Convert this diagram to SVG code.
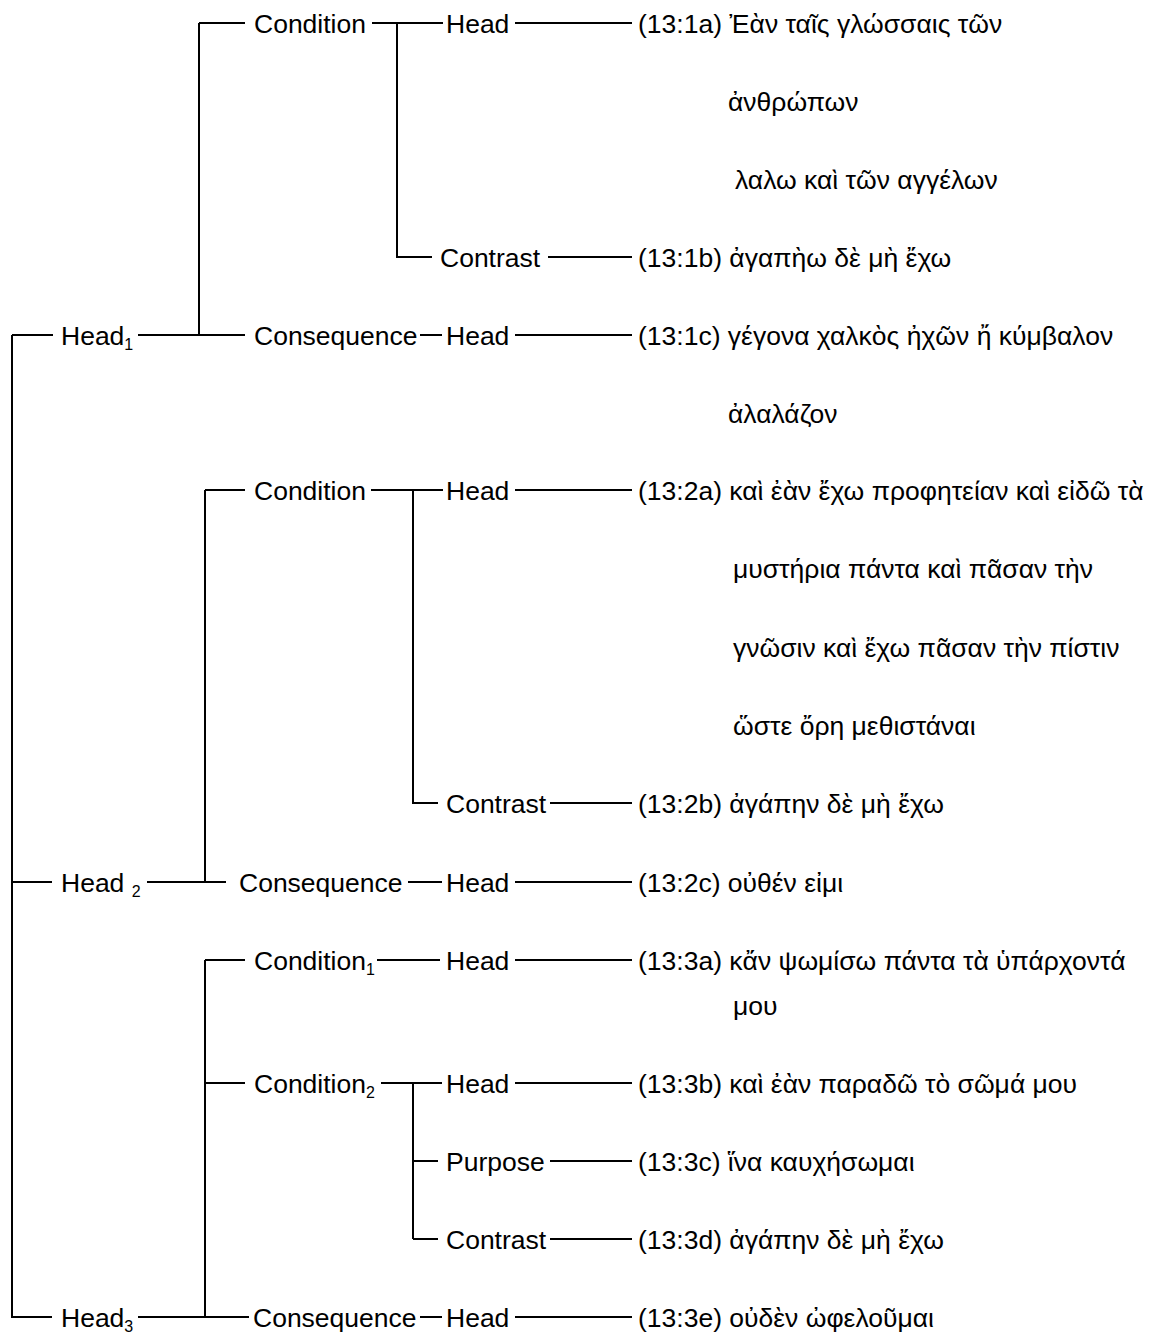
<svg xmlns="http://www.w3.org/2000/svg" width="1158" height="1333" viewBox="0 0 1158 1333">
<style>
text{font-family:"Liberation Sans",Arial,"DejaVu Sans",sans-serif;font-size:26.5px;fill:#000}
.sub{font-size:16px}
.c{fill:none;stroke:#000;stroke-width:2}
</style>
<rect width="1158" height="1333" fill="#fff"/>
<g id="connectors" class="c">
<path d="M12,335H53M12,335V1317H52M12,882H52"/>
<path d="M138,335H245M199,23V335M199,23H245"/>
<path d="M372,23H443M397,23V257H432M548,257H632"/>
<path d="M420,335H442M515,23H632M515,335H632"/>
<path d="M147,882H226M205,490V882M205,490H245"/>
<path d="M371,490H443M413,490V803H438M550,803H632M408,882H442M515,490H632M515,882H632"/>
<path d="M138,1317H249M205,960V1317M205,960H245M205,1083H245"/>
<path d="M377,960H440M381,1083H442M413,1083V1239M413,1161H438M413,1239H438M420,1317H442"/>
<path d="M515,960H632M515,1083H632M550,1161H632M550,1239H632M515,1317H632"/>
</g>
<g id="n-head1"><text x="61" y="344.5">Head<tspan class="sub" dy="5">1</tspan></text></g>
<g id="n-cond1"><text x="254" y="32.5">Condition</text></g>
<g id="n-cond1-head"><text x="446" y="32.5">Head</text></g>
<g id="n-1a"><text x="638" y="32.5">(13:1a) Ἐὰν ταῖς γλώσσαις τῶν</text><text x="728" y="110.5">ἀνθρώπων</text><text x="735" y="188.5">λαλω καὶ τῶν αγγέλων</text></g>
<g id="n-contrast1"><text x="440" y="266.5">Contrast</text></g>
<g id="n-1b"><text x="638" y="266.5">(13:1b) ἀγαπὴω δὲ μὴ ἔχω</text></g>
<g id="n-conseq1"><text x="254" y="344.5">Consequence</text></g>
<g id="n-conseq1-head"><text x="446" y="344.5">Head</text></g>
<g id="n-1c"><text x="638" y="344.5">(13:1c) γέγονα χαλκὸς ἠχῶν ἤ κύμβαλον</text><text x="728" y="422.5">ἀλαλάζον</text></g>

<g id="n-head2"><text x="61" y="891.5">Head <tspan class="sub" dy="5">2</tspan></text></g>
<g id="n-cond2"><text x="254" y="499.5">Condition</text></g>
<g id="n-cond2-head"><text x="446" y="499.5">Head</text></g>
<g id="n-2a"><text x="638" y="499.5">(13:2a) καὶ ἐὰν ἔχω προφητείαν καὶ εἰδῶ τὰ</text><text x="733" y="577.5">μυστήρια πάντα καὶ πᾶσαν τὴν</text><text x="733" y="656.5">γνῶσιν καὶ ἔχω πᾶσαν τὴν πίστιν</text><text x="733" y="734.5">ὥστε ὄρη μεθιστάναι</text></g>
<g id="n-contrast2"><text x="446" y="812.5">Contrast</text></g>
<g id="n-2b"><text x="638" y="812.5">(13:2b) ἀγάπην δὲ μὴ ἔχω</text></g>
<g id="n-conseq2"><text x="239" y="891.5">Consequence</text></g>
<g id="n-conseq2-head"><text x="446" y="891.5">Head</text></g>
<g id="n-2c"><text x="638" y="891.5">(13:2c) οὐθέν εἰμι</text></g>

<g id="n-head3"><text x="61" y="1326.5">Head<tspan class="sub" dy="5">3</tspan></text></g>
<g id="n-cond3a"><text x="254" y="969.5">Condition<tspan class="sub" dy="5">1</tspan></text></g>
<g id="n-cond3a-head"><text x="446" y="969.5">Head</text></g>
<g id="n-3a"><text x="638" y="969.5">(13:3a) κἄν ψωμίσω πάντα τὰ ὑπάρχοντά</text><text x="733" y="1014.5">μου</text></g>
<g id="n-cond3b"><text x="254" y="1092.5">Condition<tspan class="sub" dy="5">2</tspan></text></g>
<g id="n-cond3b-head"><text x="446" y="1092.5">Head</text></g>
<g id="n-3b"><text x="638" y="1092.5">(13:3b) καὶ ἐὰν παραδῶ τὸ σῶμά μου</text></g>
<g id="n-purpose"><text x="446" y="1170.5">Purpose</text></g>
<g id="n-3c"><text x="638" y="1170.5">(13:3c) ἵνα καυχήσωμαι</text></g>
<g id="n-contrast3"><text x="446" y="1248.5">Contrast</text></g>
<g id="n-3d"><text x="638" y="1248.5">(13:3d) ἀγάπην δὲ μὴ ἔχω</text></g>
<g id="n-conseq3"><text x="253" y="1326.5">Consequence</text></g>
<g id="n-conseq3-head"><text x="446" y="1326.5">Head</text></g>
<g id="n-3e"><text x="638" y="1326.5">(13:3e) οὐδὲν ὠφελοῦμαι</text></g>
</svg>
